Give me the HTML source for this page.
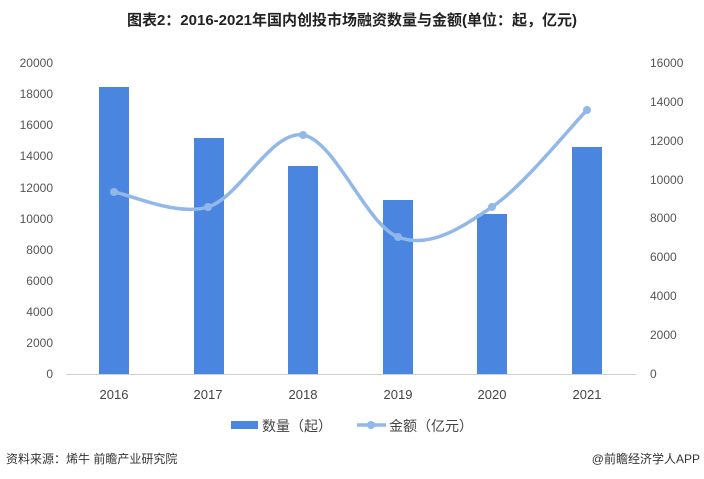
<!DOCTYPE html>
<html><head><meta charset="utf-8"><style>
body{margin:0;background:#fff;}
svg{display:block;font-family:"Liberation Sans","Noto Sans CJK SC",sans-serif;}
</style></head><body>
<svg width="704" height="479" viewBox="0 0 704 479">
<text x="352" y="25" text-anchor="middle" font-size="15" font-weight="bold" fill="#222">图表2：2016-2021年国内创投市场融资数量与金额(单位：起，亿元)</text>
<g font-size="12" fill="#555" text-anchor="end">
<text x="53" y="378">0</text><text x="53" y="347">2000</text><text x="53" y="316">4000</text><text x="53" y="285">6000</text><text x="53" y="254">8000</text><text x="53" y="223">10000</text><text x="53" y="192">12000</text><text x="53" y="160">14000</text><text x="53" y="129">16000</text><text x="53" y="98">18000</text><text x="53" y="67">20000</text>
</g>
<g font-size="12" fill="#555" text-anchor="start">
<text x="650" y="378">0</text><text x="650" y="339">2000</text><text x="650" y="300">4000</text><text x="650" y="261">6000</text><text x="650" y="222">8000</text><text x="650" y="184">10000</text><text x="650" y="145">12000</text><text x="650" y="106">14000</text><text x="650" y="67">16000</text>
</g>
<line x1="66" y1="374.5" x2="636" y2="374.5" stroke="#d0d0d0"/>
<g fill="#4a86e0">
<rect x="99" y="87" width="30" height="287"/>
<rect x="194" y="138" width="30" height="236"/>
<rect x="288" y="166" width="30" height="208"/>
<rect x="383" y="200" width="30" height="174"/>
<rect x="477" y="214" width="30" height="160"/>
<rect x="572" y="147" width="30" height="227"/>
</g>
<path d="M114,192 C130,194.5 176.5,216.5 208,207 C239.5,197.5 271.3,130 303,135 C334.7,140 366.5,225 398,237 C429.5,249 460.5,228.2 492,207 C523.5,185.8 571.2,126.2 587,110" fill="none" stroke="#92b8ea" stroke-width="3.5"/>
<g fill="#92b8ea">
<circle cx="114" cy="192" r="4"/><circle cx="208" cy="207" r="4"/><circle cx="303" cy="135" r="4"/><circle cx="398" cy="237" r="4"/><circle cx="492" cy="207" r="4"/><circle cx="587" cy="110" r="4"/>
</g>
<g font-size="13" fill="#444" text-anchor="middle">
<text x="114" y="399">2016</text><text x="208" y="399">2017</text><text x="303" y="399">2018</text><text x="398" y="399">2019</text><text x="492" y="399">2020</text><text x="587" y="399">2021</text>
</g>
<rect x="231" y="421" width="27" height="8" fill="#4a86e0"/>
<text x="262" y="431" font-size="14" fill="#444">数量（起）</text>
<line x1="357" y1="425" x2="386" y2="425" stroke="#92b8ea" stroke-width="3.5"/>
<circle cx="371" cy="425" r="4" fill="#92b8ea"/>
<text x="389" y="431" font-size="14" fill="#444">金额（亿元）</text>
<text x="6" y="463" font-size="12" fill="#333">资料来源：烯牛 前瞻产业研究院</text>
<text x="700" y="463" font-size="12" fill="#333" text-anchor="end">@前瞻经济学人APP</text>
</svg>
</body></html>
